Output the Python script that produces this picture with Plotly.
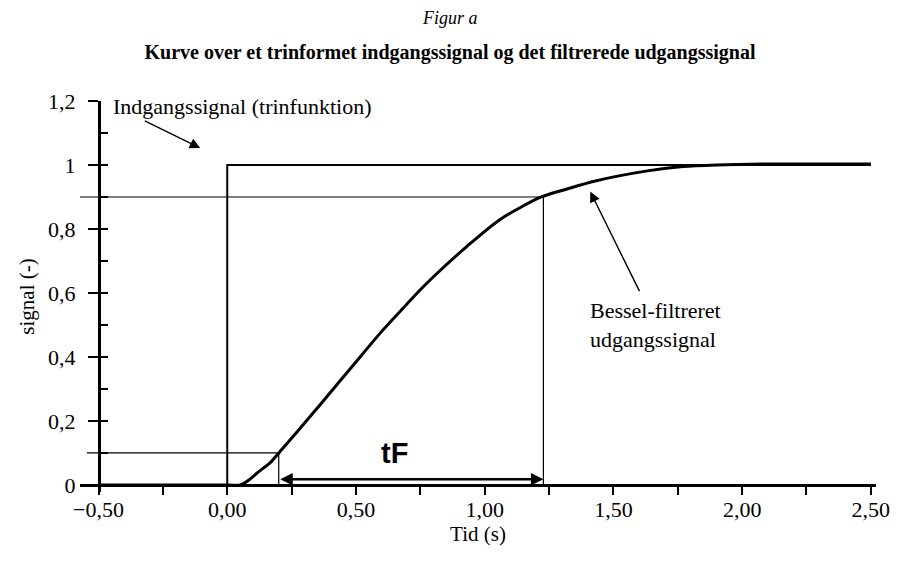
import plotly.graph_objects as go

# ---------------- data ----------------
step_t = [-0.5, 0.0, 0.0, 2.5]
step_y = [0.0, 0.0, 1.0, 1.0]

bessel_t = [-0.5, 0.0, 0.05, 0.08, 0.12, 0.167, 0.2, 0.27, 0.36, 0.49, 0.6, 0.68, 0.75,
            0.80, 0.93, 1.06, 1.22, 1.32, 1.43, 1.62, 1.77, 1.9, 2.1, 2.3, 2.5]
bessel_y = [0.0, 0.0, 0.0, 0.013, 0.04, 0.07, 0.10, 0.165, 0.25, 0.375, 0.48, 0.55, 0.61,
            0.65, 0.745, 0.83, 0.90, 0.925, 0.95, 0.98, 0.995, 1.0, 1.003, 1.003, 1.003]

lvl_low, lvl_high = 0.1, 0.9
t_low, t_high = 0.2, 1.228

y_tickvals = [0, 0.2, 0.4, 0.6, 0.8, 1.0, 1.2]
y_ticktext = ["0", "0,2", "0,4", "0,6", "0,8", "1", "1,2"]

title_top = "Figur a"
title_main = "Kurve over et trinformet indgangssignal og det filtrerede udgangssignal"
label_in = "Indgangssignal (trinfunktion)"
label_out = "Bessel-filtreret<br>udgangssignal"

# ---------------- layout params ----------------
XR = [-0.572, 2.52]
YR = [-0.022, 1.2]
SERIF = "Liberation Serif"
OFF = 8                      # page body margin offset
W, H = 899 - OFF, 562 - OFF
ML, MR, MT, MB = 80 - OFF, 23, 101 - OFF, 70
PW, PH = W - ML - MR, H - MT - MB

ypos_axis_x = (-0.5 - XR[0]) / (XR[1] - XR[0])   # paper x of the y-axis (at t=-0.5)
xpos_axis_y = (0 - YR[0]) / (YR[1] - YR[0])      # paper y of the x-axis (at signal=0)

black = "black"
fig = go.Figure()

fig.add_trace(go.Scatter(x=[XR[0], t_high, t_high], y=[lvl_high, lvl_high, 0],
                         mode="lines", line=dict(color=black, width=1.2), hoverinfo="skip"))
fig.add_trace(go.Scatter(x=[-0.545, t_low, t_low], y=[lvl_low, lvl_low, 0],
                         mode="lines", line=dict(color=black, width=1.2), hoverinfo="skip"))
fig.add_trace(go.Scatter(x=step_t, y=step_y, mode="lines",
                         line=dict(color=black, width=2), name="Indgangssignal"))
fig.add_trace(go.Scatter(x=bessel_t, y=bessel_y, mode="lines",
                         line=dict(color=black, width=3, shape="spline", smoothing=0.8),
                         name="Bessel"))
# carrier for overlay tick axes
fig.add_trace(go.Scatter(x=[step_t[0]], y=[step_y[0]], xaxis="x2", yaxis="y2", mode="markers",
                         marker=dict(opacity=0), hoverinfo="skip"))

annotations = [
    dict(text="<i>" + title_top + "</i>", xref="paper", yref="paper",
         x=(450 - OFF - ML) / PW, y=(H - (18 - OFF) - MB) / PH,
         showarrow=False, xanchor="center", yanchor="middle",
         font=dict(family=SERIF, size=18, color=black)),
    dict(text=label_in, x=-0.45, y=1.182, xref="x", yref="y", showarrow=False,
         xanchor="left", yanchor="middle", font=dict(family=SERIF, size=22, color=black)),
    dict(text="", x=-0.105, y=1.053, ax=-0.326, ay=1.14, xref="x", yref="y",
         axref="x", ayref="y", showarrow=True, arrowhead=2, arrowsize=1.5,
         arrowwidth=1.4, arrowcolor=black),
    dict(text=label_out, x=1.40, y=0.5, xref="x", yref="y", showarrow=False,
         xanchor="left", yanchor="middle", align="left",
         font=dict(family=SERIF, size=22, color=black)),
    dict(text="", x=1.41, y=0.917, ax=1.604, ay=0.601, xref="x", yref="y",
         axref="x", ayref="y", showarrow=True, arrowhead=2, arrowsize=1.5,
         arrowwidth=1.4, arrowcolor=black),
    dict(text="", x=t_high, y=0.018, ax=t_low, ay=0.018, xref="x", yref="y",
         axref="x", ayref="y", showarrow=True, arrowhead=2, startarrowhead=2,
         arrowside="end+start", arrowsize=1.0, startarrowsize=1.0,
         arrowwidth=2.5, arrowcolor=black),
    dict(text="<b>tF</b>", x=0.649, y=0.10, xref="x", yref="y",
         showarrow=False, xanchor="center", yanchor="middle",
         font=dict(family="Liberation Sans", size=29, color=black)),
]

fig.update_layout(
    width=W, height=H,
    margin=dict(l=ML, r=MR, t=MT, b=MB, autoexpand=False),
    paper_bgcolor="white", plot_bgcolor="white",
    showlegend=False,
    separators=", ",
    font=dict(family=SERIF, size=21, color=black),
    title=dict(text="<b>" + title_main + "</b>", xref="container", x=(450 - OFF) / W,
               xanchor="center", yref="container", y=1 - (52 - OFF) / H, yanchor="middle",
               font=dict(family=SERIF, size=20, color=black)),
    xaxis=dict(range=XR, domain=[0, 1], anchor="free", position=xpos_axis_y,
               showline=True, linewidth=2.5, linecolor=black, automargin=False,
               ticks="", tick0=0, dtick=0.5, tickformat=".2f", ticklabelstandoff=4,
               showgrid=False, zeroline=False,
               tickfont=dict(family=SERIF, size=22, color=black),
               title=dict(text="Tid (s)", standoff=0,
                          font=dict(family=SERIF, size=21, color=black))),
    xaxis2=dict(range=XR, domain=[0, 1], overlaying="x", anchor="free",
                position=xpos_axis_y, showline=False, ticks="outside", ticklen=9,
                tickwidth=2, tickcolor=black, tick0=0, dtick=0.25,
                showticklabels=False, showgrid=False, zeroline=False),
    yaxis=dict(range=YR, anchor="free", position=ypos_axis_x, automargin=False,
               showline=True, linewidth=2.5, linecolor=black,
               ticks="outside", ticklen=10, tickwidth=2, tickcolor=black,
               ticklabelstandoff=8,
               tickvals=y_tickvals, ticktext=y_ticktext,
               showgrid=False, zeroline=False,
               tickfont=dict(family=SERIF, size=22, color=black),
               title=dict(text="signal (-)", standoff=6,
                          font=dict(family=SERIF, size=21, color=black))),
    yaxis2=dict(range=YR, overlaying="y", anchor="free", position=ypos_axis_x,
                showline=False, ticks="inside", ticklen=8, tickwidth=2, tickcolor=black,
                tick0=0, dtick=0.1, showticklabels=False, showgrid=False, zeroline=False),
    annotations=annotations,
)

fig.write_html("out.html")
